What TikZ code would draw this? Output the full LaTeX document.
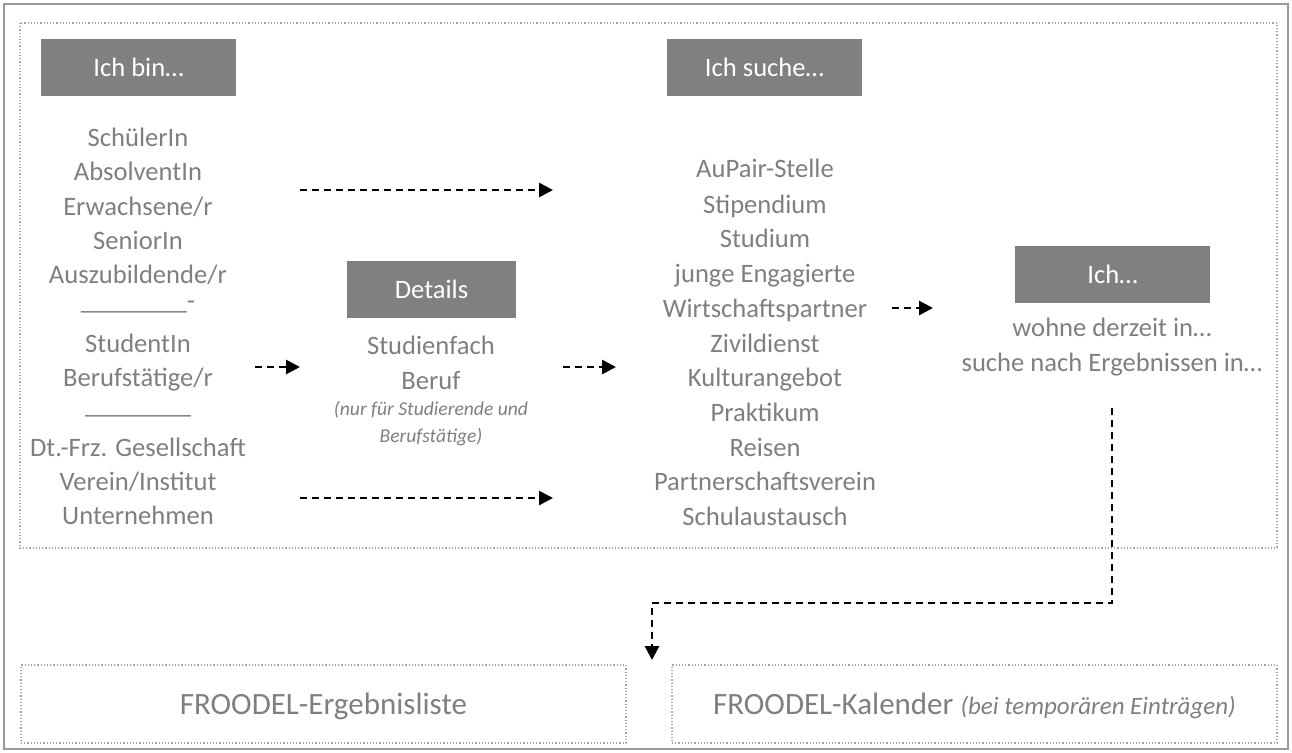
\documentclass[tikz,border=0pt]{standalone}
\usepackage{fontspec}
\setmainfont{Carlito}
\usetikzlibrary{arrows.meta}
\definecolor{txtgray}{HTML}{7F7F7F}
\definecolor{hdrgray}{HTML}{808080}
\definecolor{dotgray}{HTML}{A6A6A6}
\definecolor{framegray}{HTML}{9A9A9A}
\begin{document}
\begin{tikzpicture}
	[x=0.5pt, y=-0.5pt,
	entry/.style={text=txtgray, font=\fontsize{13.3}{16}\selectfont, text height=9pt, text depth=0pt, inner sep=0pt},
	note/.style={text=txtgray, font=\fontsize{9.8}{13.5}\selectfont\itshape, align=center, inner sep=0pt},
	hdr/.style={fill=hdrgray, text=white, font=\fontsize{13.3}{16}\selectfont, text height=9pt, text depth=0pt, minimum width=97.5pt, minimum height=28.5pt, inner sep=0pt},
	result/.style={draw=dotgray, line width=0.6pt, dash pattern=on 0.6pt off 1pt, text=txtgray, font=\fontsize{15.5}{18}\selectfont, text height=10.5pt, text depth=0pt, minimum width=302.5pt, minimum height=39pt, inner sep=0pt},
	flow/.style={line width=1.4pt, dash pattern=on 3.5pt off 2.5pt, -{Triangle[length=7pt, width=7pt]}}]
	\useasboundingbox (0,0) rectangle (1292,752);
	\draw[framegray, line width=1pt] (4,4) rectangle (1288,749);
	\draw[dotgray, line width=0.6pt, dash pattern=on 0.6pt off 1pt] (20,23) rectangle (1277,548);
	% Ich bin
	\node[hdr] (bin) at (138.5,67.5) {Ich bin…};
	\foreach \y/\t [count=\i] in {137/SchülerIn, 171/AbsolventIn, 206/{Erwachsene/r}, 240/SeniorIn, 274/{Auszubildende/r}, 300/{\_\_\_\_\_\_\_\_-}, 343/StudentIn, 377/{Berufstätige/r}, 404/{\_\_\_\_\_\_\_\_}, 447/{Dt.-Frz. Gesellschaft}, 481/{Verein/Institut}, 515/Unternehmen}
		\node[entry] (bin\i) at (138,\y) {\t};
	% Details
	\node[hdr, minimum width=84.5pt] (det) at (431.5,289.5) {Details};
	\node[entry] (fach) at (431,345) {Studienfach};
	\node[entry] (beruf) at (431,380) {Beruf};
	\node[note] (nurfuer) at (431,424) {(nur für Studierende und\\Berufstätige)};
	% Ich suche
	\node[hdr] (such) at (764.5,67.5) {Ich suche…};
	\foreach \y/\t [count=\i] in {168/AuPair-Stelle, 204/Stipendium, 238/Studium, 273/junge Engagierte, 308/Wirtschaftspartner, 343/Zivildienst, 377/Kulturangebot, 412/Praktikum, 447/Reisen, 481/Partnerschaftsverein, 516/Schulaustausch}
		\node[entry] (such\i) at (765,\y) {\t};
	% Ich...
	\node[hdr] (ich) at (1112.5,274.5) {Ich…};
	\node[entry] (wohne) at (1112,327) {wohne derzeit in…};
	\node[entry] (suche) at (1112,362) {suche nach Ergebnissen in…};
	% Ergebnisse
	\node[result] (liste) at (323.5,704) {FROODEL-Ergebnisliste};
	\node[result] (kal) at (974.5,704) {FROODEL-Kalender {\fontsize{12.5}{15}\selectfont\itshape(bei temporären Einträgen)}};
	% arrows
	\coordinate (f1a) at (300,190); \coordinate (f1b) at (553,190);
	\coordinate (f2a) at (255,367); \coordinate (f2b) at (300,367);
	\coordinate (f3a) at (563,367); \coordinate (f3b) at (616,367);
	\coordinate (f4a) at (300,498); \coordinate (f4b) at (553,498);
	\coordinate (f5a) at (892,308); \coordinate (f5b) at (933,308);
	\coordinate (f6a) at (1112,408); \coordinate (f6m) at (652,603); \coordinate (f6b) at (652,660);
	\draw[flow] (f1a) -- (f1b);
	\draw[flow] (f2a) -- (f2b);
	\draw[flow] (f3a) -- (f3b);
	\draw[flow] (f4a) -- (f4b);
	\draw[flow] (f5a) -- (f5b);
	\draw[flow] (f6a) |- (f6m) -- (f6b);
\end{tikzpicture}
\end{document}
